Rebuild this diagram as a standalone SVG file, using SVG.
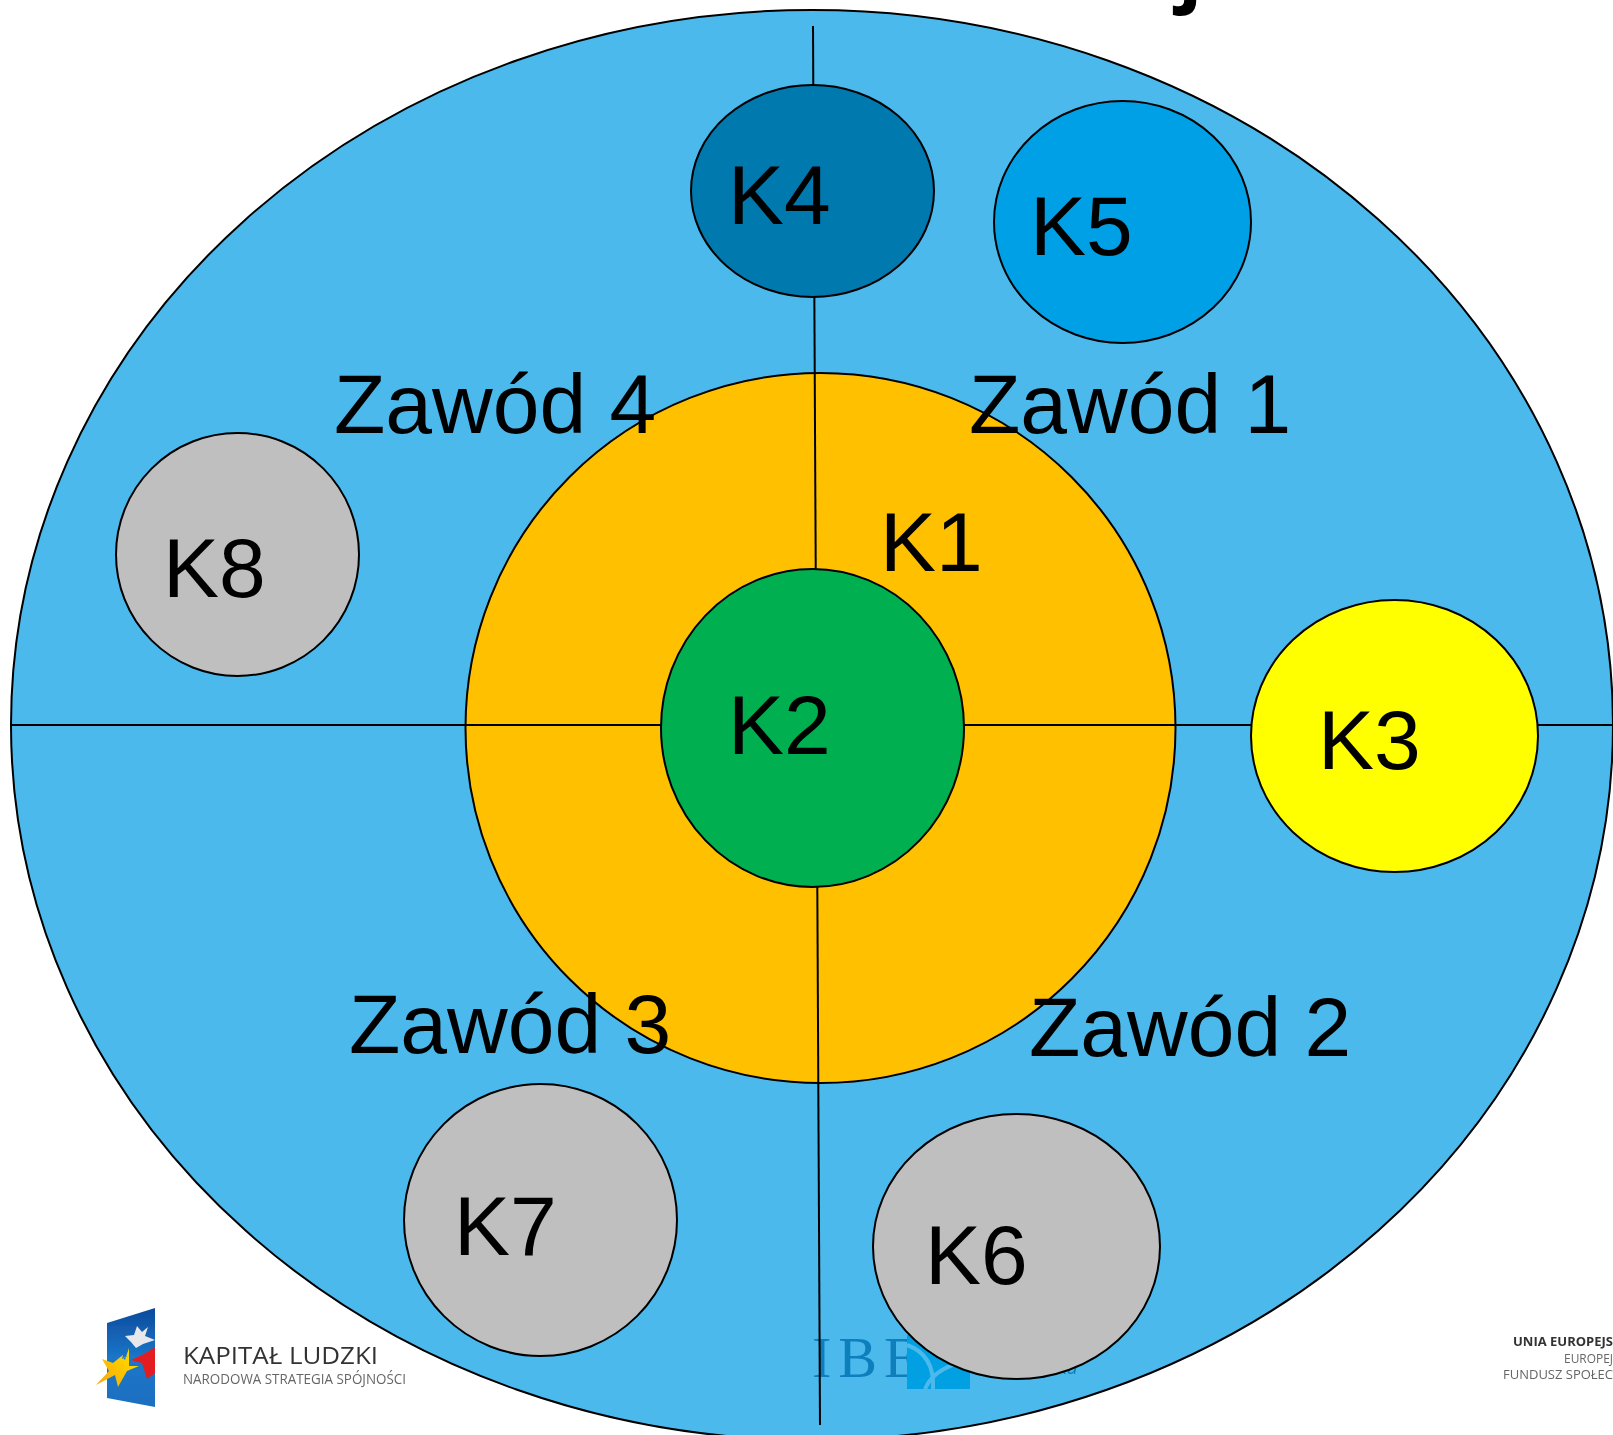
<svg xmlns="http://www.w3.org/2000/svg" width="1613" height="1435" viewBox="0 0 1613 1435">
<style>
.n{stroke:#000;stroke-width:2}
.l{font-family:"Liberation Sans",Arial,sans-serif;font-size:84px;fill:#000}
.c{stroke:#000;stroke-width:2;fill:none}
.o{font-family:"Open Sans","Noto Sans",sans-serif}
</style>
<defs>
<linearGradient id="flag" x1="0" y1="0" x2="0" y2="1"><stop offset="0" stop-color="#0d4a9c"/><stop offset=".5" stop-color="#1a76c8"/><stop offset="1" stop-color="#1b6fc0"/></linearGradient>
<linearGradient id="gold" x1="1" y1="0" x2="0" y2="1"><stop offset="0" stop-color="#ffe600"/><stop offset="1" stop-color="#f7a30a"/></linearGradient>
<filter id="soft" x="-5%" y="-5%" width="110%" height="110%"><feGaussianBlur stdDeviation="0.5"/></filter>
</defs>
<rect width="1613" height="1435" fill="#fff"/>
<text class="o" x="1178" y="-3" font-size="80" font-weight="700" fill="#000">j</text>
<g id="n-outer"><ellipse class="n" cx="812" cy="725" rx="801" ry="715" fill="#4bb9ec"/></g>
<g id="logo-ibe" filter="url(#soft)">
<text x="812" y="1377" font-family="Liberation Serif,serif" font-size="58" letter-spacing="7" fill="#0f7fbd">IBE</text>
<rect x="907" y="1335" width="63" height="54" fill="#00a0e3"/>
<path d="M907 1345Q935 1355 933 1389M925 1389Q935 1365 975 1360" fill="none" stroke="#4bb9ec" stroke-width="4"/>
<text x="985" y="1374" class="o" font-size="19" font-style="italic" fill="#0f7fbd">Europejsku</text>
</g>
<g id="n-k1"><circle class="n" cx="820.5" cy="728" r="355" fill="#ffc000"/></g>
<g id="connectors">
<path class="c" d="M813 26L820 1425"/>
<path class="c" d="M11 725H1613"/>
</g>
<g id="n-k2"><ellipse class="n" cx="812.5" cy="728" rx="151.500" ry="159" fill="#00b050"/></g>
<g id="n-k3"><ellipse class="n" cx="1394.500" cy="736" rx="143.500" ry="136" fill="#ffff00"/></g>
<g id="n-k4"><ellipse class="n" cx="812.500" cy="191" rx="121.500" ry="106" fill="#0079ae"/></g>
<g id="n-k5"><ellipse class="n" cx="1122.500" cy="222" rx="128.500" ry="121" fill="#00a0e6"/></g>
<g id="n-k6"><ellipse class="n" cx="1016.500" cy="1246.500" rx="143.500" ry="132.500" fill="#bfbfbf"/></g>
<g id="n-k7"><ellipse class="n" cx="540.500" cy="1220" rx="136.500" ry="136" fill="#bfbfbf"/></g>
<g id="n-k8"><ellipse class="n" cx="237.500" cy="554.500" rx="121.500" ry="121.500" fill="#bfbfbf"/></g>
<g id="labels">
<text class="l" x="334" y="433">Zawód 4</text>
<text class="l" x="969" y="433">Zawód 1</text>
<text class="l" x="349" y="1053">Zawód 3</text>
<text class="l" x="1029" y="1056">Zawód 2</text>
<text class="l" x="880" y="571">K1</text>
<text class="l" x="728" y="754">K2</text>
<text class="l" x="1318" y="769">K3</text>
<text class="l" x="728" y="224">K4</text>
<text class="l" x="1030" y="255">K5</text>
<text class="l" x="925" y="1284">K6</text>
<text class="l" x="454" y="1255">K7</text>
<text class="l" x="163" y="597">K8</text>
</g>
<g id="logo-kl" filter="url(#soft)">
<path d="M107 1323L155 1308V1407L107 1398Z" fill="url(#flag)"/>
<path d="M137 1326L142 1332L148 1327L145 1336L155 1340L143 1344L136 1348L131 1342L125 1336L134 1335Z" fill="#e8e8ec"/>
<path d="M155 1347L155 1373L147 1379L142 1363L131 1360L144 1354Z" fill="#e31e24"/>
<path d="M123 1355L122 1359L130 1355L123 1358L125 1360L129 1348L129 1366L139 1366L127 1371L118 1387L115 1375L96 1385L109 1371L102 1359L113 1363Z" fill="url(#gold)"/>
<text class="o" x="183" y="1364" font-size="24" fill="#333" textLength="195" lengthAdjust="spacingAndGlyphs">KAPITAŁ LUDZKI</text>
<text class="o" x="183" y="1384" font-size="14" fill="#666" textLength="223" lengthAdjust="spacingAndGlyphs">NARODOWA STRATEGIA SPÓJNOŚCI</text>
</g>
<g id="logo-ue" filter="url(#soft)">
<text class="o" x="1513" y="1346" font-size="13" font-weight="700" fill="#333" textLength="100" lengthAdjust="spacingAndGlyphs">UNIA EUROPEJS</text>
<text class="o" x="1564" y="1363" font-size="13" fill="#666" textLength="49" lengthAdjust="spacingAndGlyphs">EUROPEJ</text>
<text class="o" x="1503" y="1379" font-size="13" fill="#666" textLength="110" lengthAdjust="spacingAndGlyphs">FUNDUSZ SPOŁEC</text>
</g>
</svg>
